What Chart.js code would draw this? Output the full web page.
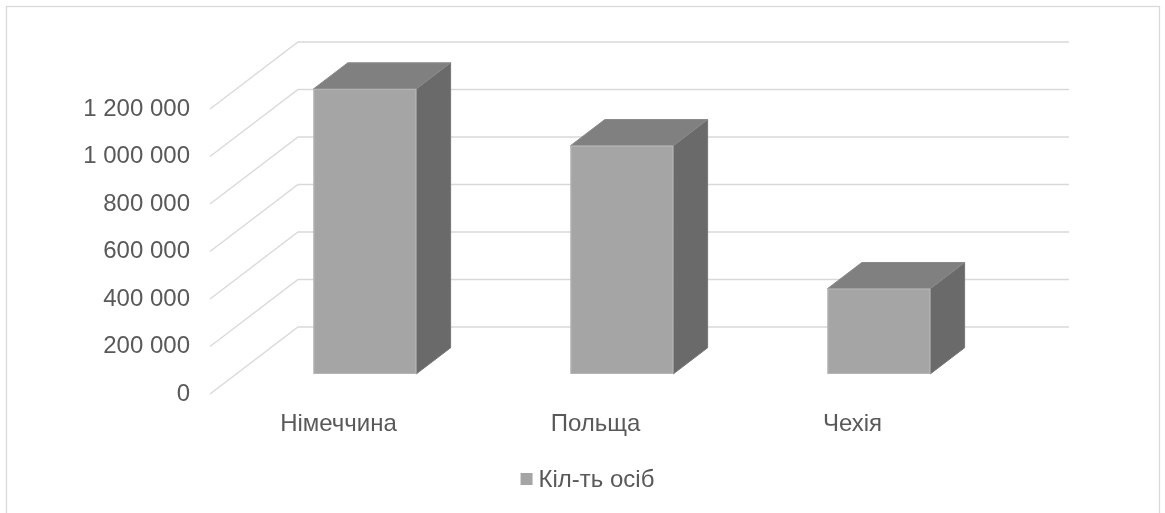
<!DOCTYPE html>
<html>
<head>
<meta charset="utf-8">
<script src="https://cdn.jsdelivr.net/npm/chart.js@4.4.1/dist/chart.umd.min.js"></script>
<style>
  html, body { margin: 0; padding: 0; background: #fff; }
  #wrap { width: 1165px; height: 513px; position: relative; }
</style>
</head>
<body>
<div id="wrap"><canvas id="chart"></canvas></div>
<script>
// Дані
const countries = ['Німеччина', 'Польща', 'Чехія'];
const persons = [1200000, 961000, 359000];
const seriesLabel = 'Кіл-ть осіб';
const yTicksMax = 1200000;
const yTicksStep = 200000;

// 3D геометрія (зсув задньої стінки відносно передньої площини)
const DEPTH_X = 88;
const DEPTH_Y = 67;
const BAR_FRONT = 0.3;   // частка глибини, де починається стовпчик
const BAR_DEPTH = 0.39;  // глибина стовпчика

const GRID_COLOR = '#d9d9d9';
const TEXT_COLOR = '#595959';
const BAR_COLOR = '#a5a5a5';
const FONT = 'Liberation Sans, Arial, sans-serif';
const FONT_SIZE = 24;

function fmt(v) {
    return String(v).replace(/\B(?=(\d{3})+(?!\d))/g, ' ');
}

const threeD = {
    id: 'threeD',
    beforeDraw(chart) {
        const ctx = chart.ctx;
        ctx.save();
        ctx.fillStyle = '#fff';
        ctx.fillRect(0, 0, chart.width, chart.height);
        // рамка діаграми
        ctx.strokeStyle = GRID_COLOR;
        ctx.lineWidth = 1.3;
        ctx.strokeRect(6.5, 6.5, 1153, 530);
        ctx.restore();
    },
    beforeDatasetsDraw(chart) {
        const ctx = chart.ctx;
        const y = chart.scales.y;
        const area = chart.chartArea;
        ctx.save();
        ctx.strokeStyle = GRID_COLOR;
        ctx.lineWidth = 1.3;
        y.ticks.forEach(t => {
            const py = y.getPixelForValue(t.value);
            ctx.beginPath();
            ctx.moveTo(area.left, py);
            ctx.lineTo(area.left + DEPTH_X, py - DEPTH_Y);
            ctx.lineTo(area.right + DEPTH_X, py - DEPTH_Y);
            ctx.stroke();
        });
        ctx.restore();
    },
    beforeDatasetDraw() {
        return false; // стовпчики малюємо самі в 3D
    },
    afterDatasetsDraw(chart) {
        const ctx = chart.ctx;
        const meta = chart.getDatasetMeta(0);
        const fx = DEPTH_X * BAR_FRONT, fy = DEPTH_Y * BAR_FRONT;
        const bx = DEPTH_X * BAR_DEPTH, by = DEPTH_Y * BAR_DEPTH;
        ctx.save();
        ctx.lineWidth = 1;
        meta.data.forEach(bar => {
            const p = bar.getProps(['x', 'y', 'base', 'width'], true);
            const x0 = p.x - p.width / 2 + fx;
            const x1 = p.x + p.width / 2 + fx;
            const yT = p.y - fy;
            const yB = p.base - fy;

            // права грань
            ctx.fillStyle = '#6a6a6a';
            ctx.strokeStyle = '#777';
            ctx.beginPath();
            ctx.moveTo(x1, yT);
            ctx.lineTo(x1 + bx, yT - by);
            ctx.lineTo(x1 + bx, yB - by);
            ctx.lineTo(x1, yB);
            ctx.closePath();
            ctx.fill();
            ctx.stroke();

            // верхня грань
            ctx.fillStyle = '#808080';
            ctx.strokeStyle = '#8a8a8a';
            ctx.beginPath();
            ctx.moveTo(x0, yT);
            ctx.lineTo(x0 + bx, yT - by);
            ctx.lineTo(x1 + bx, yT - by);
            ctx.lineTo(x1, yT);
            ctx.closePath();
            ctx.fill();
            ctx.stroke();

            // передня грань
            ctx.fillStyle = BAR_COLOR;
            ctx.strokeStyle = '#b5b5b5';
            ctx.fillRect(x0, yT, x1 - x0, yB - yT);
            ctx.strokeRect(x0 + 0.5, yT + 0.5, x1 - x0 - 1, yB - yT - 1);
        });

        // легенда
        ctx.font = FONT_SIZE + 'px ' + FONT;
        const tw = ctx.measureText(seriesLabel).width;
        const total = 12 + 6 + tw;
        const lx = chart.width / 2 + 5 - total / 2;
        const ly = 479;
        ctx.fillStyle = BAR_COLOR;
        ctx.fillRect(lx, ly - 6, 12, 12);
        ctx.fillStyle = TEXT_COLOR;
        ctx.textBaseline = 'middle';
        ctx.textAlign = 'left';
        ctx.fillText(seriesLabel, lx + 18, ly + 1);
        ctx.restore();
    }
};

new Chart(document.getElementById('chart'), {
    type: 'bar',
    data: {
        labels: countries,
        datasets: [{
            label: seriesLabel,
            data: persons,
            backgroundColor: BAR_COLOR,
            borderWidth: 0,
            categoryPercentage: 1,
            barPercentage: 0.4
        }]
    },
    options: {
        responsive: true,
        maintainAspectRatio: false,
        animation: false,
        layout: { padding: { top: 109, right: 184, bottom: 54, left: 0 } },
        scales: {
            x: {
                grid: { display: false, drawTicks: false },
                border: { display: false },
                ticks: { color: TEXT_COLOR, font: { family: FONT, size: FONT_SIZE }, padding: 16 },
                afterFit: s => { s.height = 65; }
            },
            y: {
                min: 0,
                max: yTicksMax,
                grid: { display: false, drawTicks: false },
                border: { display: false },
                ticks: {
                    stepSize: yTicksStep,
                    color: TEXT_COLOR,
                    font: { family: FONT, size: FONT_SIZE },
                    padding: 20,
                    callback: v => fmt(v)
                },
                afterFit: s => { s.width = 210; }
            }
        },
        plugins: {
            legend: { display: false },
            tooltip: { enabled: false }
        }
    },
    plugins: [threeD]
});
</script>
</body>
</html>
